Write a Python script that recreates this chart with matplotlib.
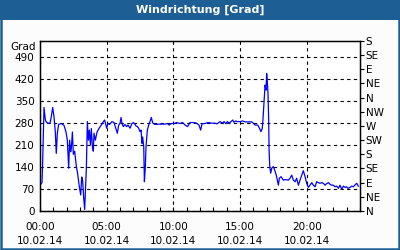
import matplotlib
matplotlib.use("Agg")
import matplotlib.pyplot as plt
from matplotlib.patches import Rectangle

hours = [0.0, 0.05, 0.15, 0.2, 0.3, 0.4, 0.45, 0.55, 0.75, 0.85, 0.95, 1.05, 1.15, 1.22, 1.3, 1.4, 1.6, 1.8, 1.95,
         2.05, 2.15, 2.22, 2.3, 2.35, 2.43, 2.5, 2.6, 2.73, 2.8, 2.85, 2.95, 3.05, 3.13, 3.2, 3.28, 3.35, 3.4, 3.48,
         3.55, 3.63, 3.7, 3.78, 3.85, 3.93, 4.0, 4.05, 4.15, 4.28, 4.42, 4.6, 4.75, 4.85, 5.0, 5.1, 5.22, 5.4, 5.55,
         5.65, 5.8, 5.9, 6.0, 6.08, 6.15, 6.25, 6.375, 6.5, 6.6, 6.75, 6.9, 7.0, 7.1, 7.2, 7.3, 7.4, 7.5, 7.58, 7.65,
         7.7, 7.78, 7.83, 7.9, 7.95, 8.05, 8.15, 8.25, 8.35, 8.45, 8.6, 9.0, 9.4, 9.55, 9.7, 9.85, 10.05, 10.25, 10.5,
         10.7, 10.88, 11.07, 11.25, 11.5, 11.75, 11.92, 12.05, 12.15, 12.375, 12.6, 12.9, 13.1, 13.28, 13.5, 13.68,
         13.8, 13.95, 14.05, 14.2, 14.3, 14.45, 14.55, 14.68, 14.8, 15.03, 15.18, 15.4, 15.65, 15.88, 16.0, 16.13,
         16.33, 16.47, 16.57, 16.67, 16.72, 16.78, 16.88, 16.95, 17.0, 17.05, 17.1, 17.15, 17.18, 17.23, 17.3, 17.38,
         17.5, 17.6, 17.72, 17.88, 17.95, 18.08, 18.25, 18.38, 18.63, 18.75, 18.88, 19.0, 19.13, 19.25, 19.38, 19.5,
         19.63, 19.75, 19.88, 20.0, 20.13, 20.25, 20.38, 20.5, 20.63, 20.75, 20.88, 21.0, 21.13, 21.25, 21.38, 21.5,
         21.63, 21.75, 21.88, 22.0, 22.13, 22.25, 22.38, 22.5, 22.63, 22.75, 22.88, 22.98, 23.1, 23.25, 23.38, 23.5,
         23.63, 23.75, 23.88]
direction = [82, 85, 90, 157, 329, 290, 284, 280, 278, 300, 329, 300, 250, 183, 247, 275, 278, 272, 251,
             225, 136, 225, 188, 200, 251, 180, 190, 140, 125, 109, 77, 51, 108, 95, 40, 5, 60, 140,
             284, 225, 257, 210, 262, 204, 190, 247, 225, 251, 262, 273, 284, 289, 263, 278, 275, 284, 281,
             267, 247, 273, 278, 297, 278, 268, 275, 268, 273, 263, 278, 281, 277, 270, 268, 263, 252, 257, 215,
             235, 204, 93, 140, 204, 257, 273, 284, 297, 280, 275, 276, 276, 278, 273, 278, 278, 281, 278,
             281, 273, 268, 281, 281, 279, 273, 257, 277, 278, 281, 279, 279, 277, 284, 279,
             284, 277, 284, 279, 283, 289, 282, 286, 284, 284, 286, 283, 283, 283, 279, 273,
             273, 262, 252, 262, 289, 331, 400, 384, 437, 410, 374, 289, 194, 143, 120, 136,
             141, 130, 114, 82, 104, 109, 98, 100, 98, 104, 114, 98, 93, 104, 82, 98,
             114, 128, 109, 88, 75, 82, 90, 82, 77, 93, 90, 88, 90, 88, 82, 87,
             90, 85, 82, 82, 77, 79, 72, 82, 69, 79, 75, 77, 72, 75, 79, 77,
             83, 88, 79]

title = "Windrichtung [Grad]"
y_ticks = [0, 70, 140, 210, 280, 350, 420, 490]
x_ticks = [0, 5, 10, 15, 20]
x_labels = ["00:00\n10.02.14", "05:00\n10.02.14", "10:00\n10.02.14", "15:00\n10.02.14", "20:00\n10.02.14"]
compass = ["N", "NE", "E", "SE", "S", "SW", "W", "NW", "N", "NE", "E", "SE", "S"]

BLUE = "#1d5f95"
fig = plt.figure(figsize=(4, 2.5), dpi=100, facecolor="#fcfcfc")
fig.patches.append(Rectangle((0, 230 / 250), 1, 20 / 250, transform=fig.transFigure,
                             facecolor=BLUE, edgecolor="none", zorder=0))
fig.patches.append(Rectangle((0.002, 0.003), 0.996, 0.994, transform=fig.transFigure,
                             facecolor="none", edgecolor=BLUE, lw=1.8, zorder=5))
fig.text(0.5, 240 / 250, title, color="white", fontsize=8, fontweight="bold",
         ha="center", va="center")

ax = fig.add_axes([40 / 400, 39 / 250, 320 / 400, 170 / 250])
ax.set_facecolor("white")
ax.plot(hours, direction, color="#0000ff", lw=0.9, zorder=3)
ax.set_xlim(0, 24)
ax.set_ylim(0, 540)
ax.set_yticks(y_ticks)
ax.set_yticklabels([str(v) for v in y_ticks], fontsize=7.5)
ax.set_xticks(x_ticks)
ax.set_xticklabels(x_labels, fontsize=7.5, linespacing=1.5)
ax.set_xticks(range(0, 25), minor=True)
ax.tick_params(axis="x", which="both", direction="in", length=3, width=0.8, pad=8)
ax.tick_params(axis="y", which="both", length=0, pad=4)
ax.grid(True, color="black", linestyle=(0, (3, 3)), lw=0.8)
for s in ax.spines.values():
    s.set_linewidth(1.0)
ax.text(-0.012, 496 / 540 + 0.045, "Grad", transform=ax.transAxes, ha="right", va="center", fontsize=7.5)

ax2 = ax.twinx()
ax2.set_ylim(0, 540)
ax2.set_yticks(list(range(0, 541, 45)))
ax2.set_yticklabels(compass, fontsize=7.5)
ax2.tick_params(axis="y", direction="out", length=3, width=0.8, pad=1)

fig.savefig("out.png", dpi=100, facecolor=fig.get_facecolor())
